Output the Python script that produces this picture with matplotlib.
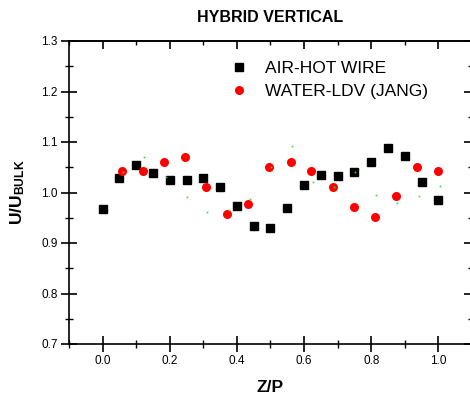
import matplotlib
matplotlib.use("Agg")
import matplotlib.pyplot as plt
from matplotlib.ticker import MultipleLocator, NullFormatter

plt.rcParams['font.family'] = ['Liberation Sans', 'DejaVu Sans']
plt.rcParams['mathtext.fontset'] = 'custom'
plt.rcParams['mathtext.bf'] = 'Liberation Sans:bold'
plt.rcParams['mathtext.rm'] = 'Liberation Sans:bold'
plt.rcParams['mathtext.default'] = 'bf'

# Data
air_x = [0.0, 0.05, 0.10, 0.15, 0.20, 0.25, 0.30, 0.35, 0.40, 0.45, 0.50,
         0.55, 0.60, 0.65, 0.70, 0.75, 0.80, 0.85, 0.90, 0.95, 1.00]
air_y = [0.967, 1.029, 1.054, 1.039, 1.025, 1.024, 1.029, 1.010, 0.974, 0.934, 0.930,
         0.970, 1.015, 1.034, 1.032, 1.041, 1.061, 1.089, 1.072, 1.021, 0.986]

water_x = [0.057, 0.120, 0.182, 0.245, 0.307, 0.370, 0.434, 0.497,
           0.560, 0.622, 0.685, 0.748, 0.810, 0.873, 0.937, 0.999]
water_y = [1.042, 1.042, 1.060, 1.070, 1.011, 0.957, 0.977, 1.050,
           1.060, 1.042, 1.011, 0.971, 0.951, 0.994, 1.050, 1.042]

extra_x = [0.061, 0.123, 0.1875, 0.250, 0.311, 0.376, 0.438, 0.502,
           0.564, 0.626, 0.688, 0.753, 0.815, 0.877, 0.942, 1.004]
extra_y = [1.040, 1.071, 1.030, 0.992, 0.962, 0.965, 0.988, 1.050,
           1.092, 1.021, 1.011, 1.041, 0.996, 0.979, 0.994, 1.012]

xticks = [0.0, 0.2, 0.4, 0.6, 0.8, 1.0]
xticklabels = ['0.0', '0.2', '0.4', '0.6', '0.8', '1.0']

fig = plt.figure(figsize=(4.70, 3.99), dpi=100)
ax = fig.add_axes([69/470, 1-344/399, 403/470, 303/399])

ax.plot(air_x, air_y, 's', color='black', markersize=6.3, label='AIR-HOT WIRE', zorder=3)
ax.plot(water_x, water_y, 'o', color='#ff0000', markersize=6.5, markeredgewidth=0,
        label='WATER-LDV (JANG)', zorder=3)
ax.plot(extra_x, extra_y, 's', color='#33dd33', markersize=1.2, markeredgewidth=0, zorder=4)

ax.set_xlim(-0.1, 1.1)
ax.set_ylim(0.7, 1.3)
ax.set_xticks(xticks)
ax.set_xticklabels(xticklabels)
ax.xaxis.set_minor_locator(MultipleLocator(0.1))
ax.yaxis.set_major_locator(MultipleLocator(0.1))
ax.yaxis.set_minor_locator(MultipleLocator(0.05))

for s in ax.spines.values():
    s.set_linewidth(1.2)

ax.tick_params(axis='both', which='major', direction='inout', length=12, width=1.2,
               labelsize=8.5, pad=2)
ax.tick_params(axis='both', which='minor', direction='inout', length=6, width=1.0)

# top and right axes with inward ticks
top = ax.secondary_xaxis('top')
top.set_xticks(xticks)
top.xaxis.set_major_formatter(NullFormatter())
top.xaxis.set_minor_locator(MultipleLocator(0.1))
top.tick_params(which='major', direction='in', length=6, width=1.2)
top.tick_params(which='minor', direction='in', length=3, width=1.0)
top.spines['top'].set_linewidth(1.2)

right = ax.secondary_yaxis('right')
right.yaxis.set_major_locator(MultipleLocator(0.1))
right.yaxis.set_minor_locator(MultipleLocator(0.05))
right.yaxis.set_major_formatter(NullFormatter())
right.tick_params(which='major', direction='in', length=6, width=1.2)
right.tick_params(which='minor', direction='in', length=3, width=1.0)
right.spines['right'].set_linewidth(1.2)

ax.set_title('HYBRID VERTICAL', fontsize=11.5, fontweight='bold', pad=14)
ax.set_xlabel('Z/P', fontsize=12.5, fontweight='bold', labelpad=9)
ax.set_ylabel(r'U/U$_{BULK}$', fontsize=12.5, fontweight='bold', labelpad=10)

leg = ax.legend(loc='upper left', bbox_to_anchor=(0.365, 0.975), frameon=False,
                fontsize=12.5, handletextpad=0.9, borderpad=0.2, labelspacing=0.45,
                handlelength=1.2)

fig.savefig('out.png', dpi=100)
